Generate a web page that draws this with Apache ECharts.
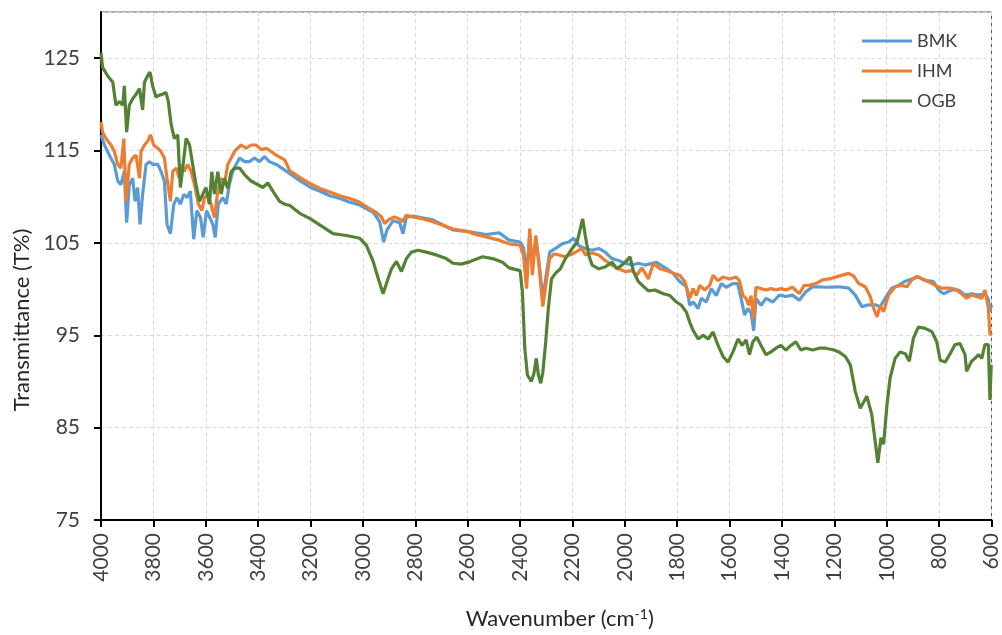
<!DOCTYPE html>
<html>
<head>
<meta charset="utf-8">
<script src="https://cdn.jsdelivr.net/npm/echarts@6/dist/echarts.min.js"></script>
<style>
  html, body { margin: 0; padding: 0; background: #fff; }
  #chart { width: 1002px; height: 635px; }
</style>
</head>
<body>
<div id="chart"></div>
<script>
// FTIR spectra, wavenumber (cm-1) vs transmittance (%)
const bmkWave = [4000,3987,3968,3949,3936,3924,3911,3902,3892,3879,3870,3860,3851,3841,3828,3815,3803,3783,3771,3758,3748,3735,3722,3710,3697,3684,3671,3659,3646,3634,3620,3610,3597,3585,3573,3564,3552,3535,3522,3510,3497,3484,3471,3452,3433,3414,3395,3376,3357,3331,3299,3279,3241,3200,3164,3126,3088,3050,3012,2961,2936,2921,2908,2885,2860,2847,2834,2809,2733,2656,2593,2530,2480,2442,2400,2387,2375,2363,2353,2340,2328,2313,2300,2287,2265,2239,2214,2195,2176,2151,2125,2100,2075,2049,2024,1999,1973,1948,1923,1879,1840,1815,1790,1765,1752,1739,1720,1708,1689,1670,1651,1632,1613,1588,1569,1556,1543,1530,1518,1508,1499,1480,1461,1435,1410,1385,1360,1334,1309,1283,1258,1233,1183,1145,1120,1095,1069,1044,1025,1006,981,955,929,904,879,853,821,802,783,752,726,701,676,650,625,612,606,600];
const bmkT = [116.7,115.6,114.5,113.5,111.7,111.3,112.75,107.2,111.3,112.0,109.5,111.0,107.0,110.25,113.5,113.8,113.5,113.5,112.75,111.7,107.0,106.0,109.2,109.9,109.2,110.25,109.9,110.6,105.4,108.5,107.75,105.6,108.5,107.75,107.0,105.6,109.2,109.9,109.2,111.3,112.75,113.5,114.2,113.8,113.8,114.2,113.8,114.35,113.8,113.5,112.9,112.5,111.75,111.0,110.6,110.1,109.8,109.4,109.1,108.3,107.3,105.1,106.4,107.4,107.2,106.0,107.8,107.9,107.5,106.4,106.2,105.9,106.1,105.3,105.1,104.5,101.5,106.0,102.5,105.5,103.0,99.0,101.5,104.0,104.4,104.9,105.1,105.5,104.7,104.4,104.2,104.4,104.0,103.3,103.1,102.8,102.6,102.8,102.6,102.9,102.2,101.7,100.8,100.25,98.25,98.6,97.9,99.0,98.6,100.05,99.3,100.6,100.2,100.6,100.6,99.0,97.2,97.9,97.4,95.5,99.0,98.25,99.0,98.6,99.35,99.2,99.35,98.8,99.7,100.25,100.25,100.2,100.25,100.1,99.35,98.1,98.3,98.3,98.1,99.0,100.1,100.4,100.85,101.1,101.3,100.95,100.8,99.9,99.5,99.9,99.9,99.35,99.5,99.35,99.5,98.9,97.6,98.3];

const ihmWave = [4000,3994,3981,3962,3949,3936,3924,3913,3904,3892,3879,3866,3853,3847,3834,3822,3811,3799,3783,3771,3758,3748,3735,3726,3713,3701,3692,3682,3669,3656,3643,3628,3615,3605,3592,3580,3567,3554,3541,3529,3516,3503,3490,3478,3465,3446,3427,3408,3388,3369,3350,3331,3299,3279,3241,3200,3164,3126,3088,3050,3012,2974,2949,2929,2917,2898,2879,2860,2850,2834,2809,2771,2733,2695,2656,2593,2581,2530,2480,2442,2400,2387,2375,2363,2353,2340,2328,2313,2300,2287,2271,2252,2227,2201,2176,2163,2151,2125,2100,2075,2049,2024,1999,1973,1954,1935,1910,1891,1866,1840,1815,1790,1771,1752,1739,1727,1714,1695,1676,1663,1644,1625,1600,1575,1562,1549,1537,1527,1518,1509,1499,1480,1461,1442,1423,1404,1385,1360,1334,1315,1296,1271,1245,1220,1183,1145,1126,1107,1082,1063,1050,1037,1025,1012,993,968,942,923,904,885,866,841,815,790,764,739,714,695,676,657,637,625,612,606,600];
const ihmT = [118.1,117.0,116.3,115.6,114.9,113.5,113.1,116.3,109.5,113.5,114.2,114.5,112.0,114.9,115.6,116.0,116.7,115.6,115.25,114.9,114.2,112.0,109.5,112.75,113.1,112.0,113.5,112.75,113.5,112.75,111.3,109.2,108.5,109.9,110.25,109.2,107.75,110.6,112.0,111.3,113.5,114.2,114.9,115.25,115.6,115.25,115.6,115.6,115.1,115.25,114.9,114.5,114.0,112.8,112.1,111.4,110.9,110.5,110.1,109.8,109.4,108.7,108.3,107.8,107.1,107.6,107.8,107.6,107.3,108.0,107.8,107.6,107.3,106.9,106.5,106.2,106.0,105.65,105.3,104.9,104.75,103.7,100.05,106.55,101.5,105.8,102.6,98.1,100.8,103.3,103.8,103.7,103.5,103.8,104.2,104.4,103.7,103.9,103.7,103.1,102.6,102.2,101.9,102.0,101.5,102.3,101.1,102.8,102.2,102.0,101.7,101.5,100.8,99.0,100.05,99.3,100.4,99.9,100.4,101.5,100.9,101.3,101.1,101.3,100.9,99.3,99.0,98.25,99.3,96.8,100.2,100.05,99.9,100.05,99.9,100.05,99.9,100.2,99.5,100.4,100.4,100.6,101.0,101.1,101.4,101.7,101.4,100.6,100.25,99.2,97.9,97.0,98.2,97.55,99.35,100.25,100.4,100.25,101.0,101.4,101.1,100.8,100.4,100.1,100.1,100.0,99.5,99.0,99.4,99.2,99.0,99.9,98.0,95.0,95.3];

const ogbWave = [4000,3994,3975,3955,3943,3930,3917,3911,3902,3892,3879,3866,3853,3841,3834,3822,3813,3803,3790,3777,3764,3752,3743,3732,3720,3707,3697,3688,3675,3662,3650,3637,3624,3611,3599,3586,3577,3567,3554,3541,3529,3516,3503,3490,3471,3452,3427,3401,3382,3363,3344,3318,3299,3279,3241,3200,3152,3114,3063,3012,2987,2961,2942,2923,2908,2891,2872,2853,2834,2815,2790,2758,2720,2682,2656,2625,2593,2581,2543,2505,2467,2442,2400,2391,2382,2372,2357,2347,2338,2330,2321,2313,2302,2292,2280,2265,2246,2227,2201,2182,2170,2161,2151,2138,2125,2100,2075,2049,2030,2011,1992,1980,1967,1948,1929,1910,1885,1853,1828,1803,1784,1765,1752,1739,1720,1701,1682,1663,1644,1625,1606,1587,1568,1552,1537,1524,1511,1496,1480,1461,1442,1423,1404,1385,1366,1347,1328,1309,1283,1258,1233,1201,1183,1158,1139,1120,1101,1076,1057,1044,1034,1022,1012,999,987,968,949,929,914,898,879,853,828,809,796,777,758,739,720,701,695,676,663,650,637,625,612,606,601];
const ogbT = [125.6,124.0,123.1,122.4,119.9,120.3,119.9,122.0,117.0,119.9,120.6,121.1,121.7,119.4,122.4,123.1,123.5,122.0,120.8,121.0,121.1,121.3,120.3,117.8,116.3,116.7,111.0,113.1,116.3,115.6,113.5,111.3,109.5,110.3,111.0,109.2,112.7,110.3,112.7,110.3,112.0,110.9,112.7,113.1,113.1,112.4,111.7,111.3,111.0,111.5,110.6,109.5,109.2,109.05,108.2,107.6,106.7,106.0,105.8,105.5,104.75,103.0,101.2,99.5,100.8,102.2,103.0,101.9,103.3,104.0,104.2,104.0,103.7,103.3,102.8,102.7,102.95,103.1,103.5,103.3,102.9,102.3,102.0,99.7,93.6,90.7,90.0,90.85,92.5,90.7,89.8,91.0,94.3,97.9,101.1,101.7,102.2,103.3,104.4,105.1,106.55,107.6,105.8,103.7,102.6,102.2,102.4,102.9,102.2,102.6,103.1,103.5,101.9,100.8,100.3,99.8,99.9,99.5,99.3,98.6,98.25,97.5,96.4,95.5,94.6,95.0,94.6,95.35,93.9,92.7,92.1,93.2,94.6,93.9,94.5,92.9,94.3,94.8,93.9,92.9,93.2,93.6,93.9,93.4,93.9,94.3,93.4,93.6,93.4,93.6,93.6,93.4,93.2,92.7,91.8,88.9,87.1,88.4,86.4,83.5,81.2,83.9,83.2,87.5,90.4,92.5,93.2,93.0,92.2,94.7,95.9,95.75,95.4,94.3,92.3,92.1,93.0,94.0,94.1,92.9,91.1,92.2,92.5,92.9,92.5,94.0,94.0,88.0,91.8];

const seriesNames = ['BMK', 'IHM', 'OGB'];
const seriesColors = ['#5B9BD5', '#ED7D31', '#548235'];

const pair = (w, t) => w.map((x, i) => [x, t[i]]);
const allData = [pair(bmkWave, bmkT), pair(ihmWave, ihmT), pair(ogbWave, ogbT)];

const fontFamily = 'Lato, "Noto Sans", sans-serif';
const chart = echarts.init(document.getElementById('chart'), null, { renderer: 'canvas' });

chart.setOption({
  animation: false,
  backgroundColor: '#fff',
  grid: {
    left: 101, right: 10, top: 12, bottom: 112,
    show: true, borderColor: '#595959', borderWidth: 1
  },
  legend: {
    orient: 'vertical',
    left: 857, top: 26,
    padding: 5,
    icon: 'rect',
    itemWidth: 50, itemHeight: 3, itemGap: 10,
    textStyle: { fontFamily, fontSize: 18, color: '#404040', lineHeight: 20 },
    data: seriesNames
  },
  xAxis: {
    type: 'value',
    inverse: true,
    min: 600, max: 4000, interval: 200,
    name: '{a|Wavenumber (cm}{s|-1}{a|)}',
    nameLocation: 'middle',
    nameGap: 87,
    nameTextStyle: {
      padding: [0, 0, 0, 27],
      rich: {
        a: { fontFamily, fontSize: 22, color: '#262626', lineHeight: 24 },
        s: { fontFamily, fontSize: 14, color: '#262626', verticalAlign: 'top', lineHeight: 13 }
      }
    },
    axisLine: { lineStyle: { color: '#000', width: 2 } },
    axisTick: { length: 7, lineStyle: { color: '#000', width: 2 } },
    axisLabel: {
      rotate: 90, margin: 13, fontFamily, fontSize: 21, color: '#404040',
      formatter: v => String(v)
    },
    splitLine: { lineStyle: { color: '#D9D9D9', type: [4, 3], width: 1 } }
  },
  yAxis: {
    type: 'value',
    min: 75, max: 130, interval: 10,
    name: 'Transmittance (T%)',
    nameLocation: 'middle',
    nameGap: 68,
    nameTextStyle: { fontFamily, fontSize: 22, color: '#262626', padding: [0, 108, 0, 0] },
    axisLine: { show: true, lineStyle: { color: '#000', width: 2 } },
    axisTick: { show: true, length: 7, lineStyle: { color: '#000', width: 2 } },
    axisLabel: { margin: 21, fontFamily, fontSize: 21, color: '#404040', showMaxLabel: false },
    splitLine: { lineStyle: { color: '#D9D9D9', type: [4, 3], width: 1 } }
  },
  series: seriesNames.map((name, i) => ({
    name,
    type: 'line',
    data: allData[i],
    symbol: 'none',
    color: seriesColors[i],
    lineStyle: { width: 3.2, color: seriesColors[i] }
  }))
});
</script>
</body>
</html>
